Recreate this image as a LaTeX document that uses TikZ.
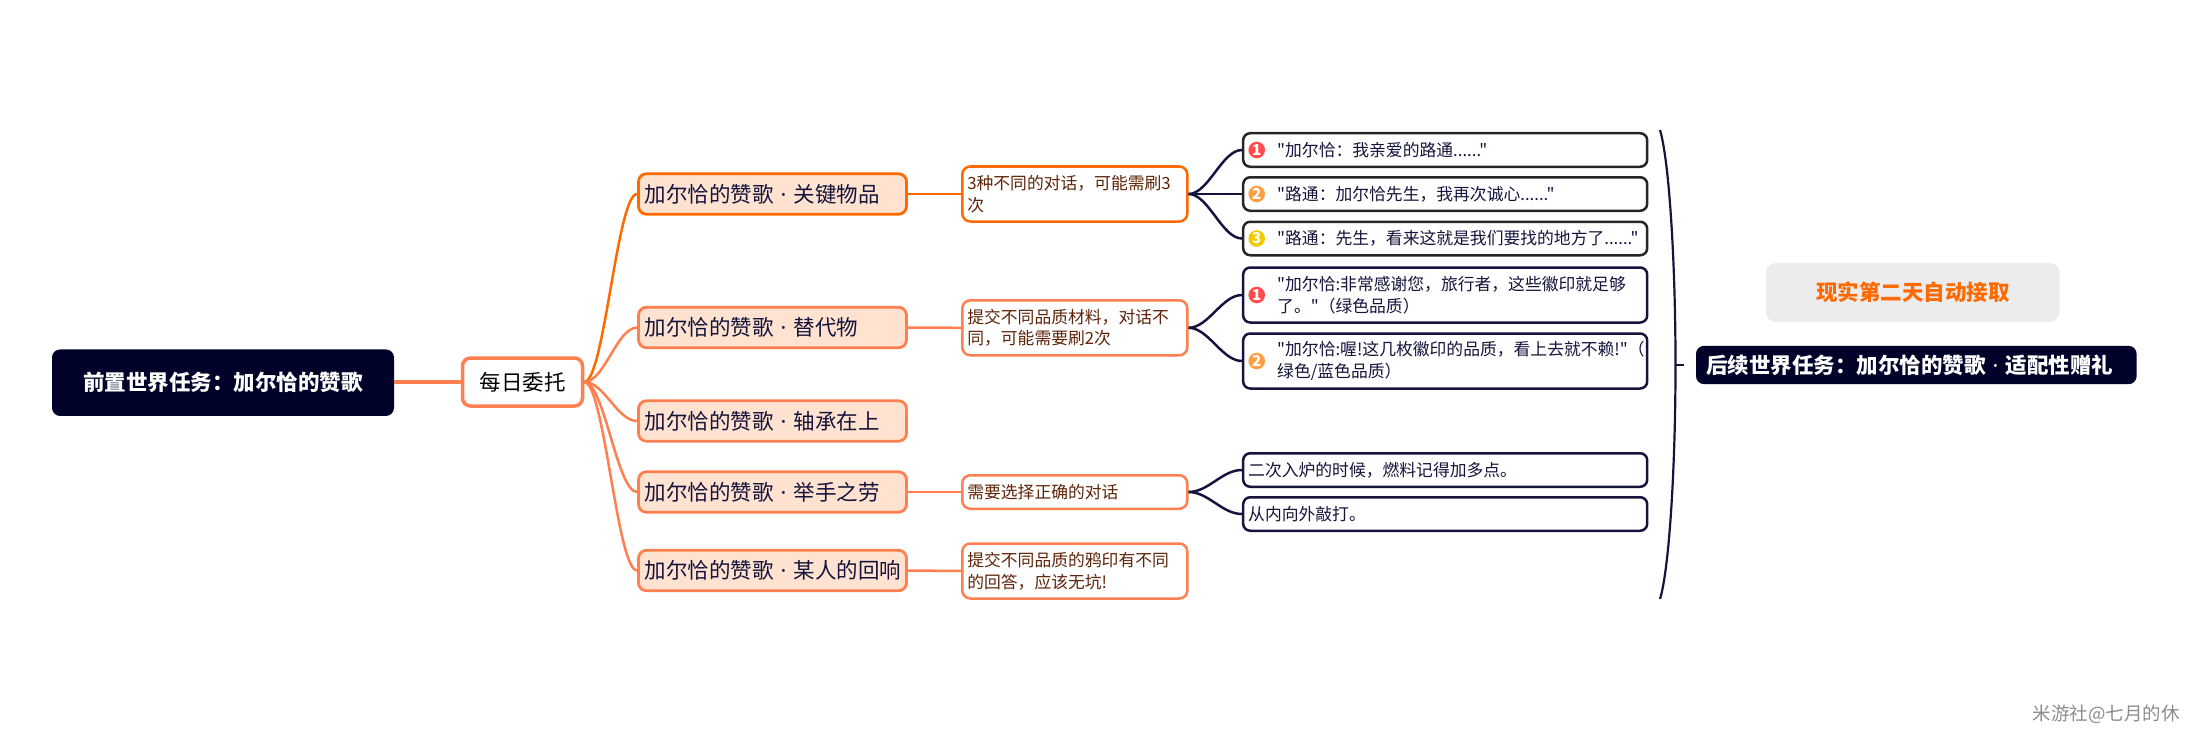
\documentclass[tikz,border=0pt]{standalone}
\usepackage{fontspec}
\usepackage{xcolor}
\newfontfamily\mapfont{Noto Sans CJK SC}
\newfontfamily\latinfont{Noto Sans}
\newcommand{\dotsep}{{\latinfont~·~}}
% full-width punctuation
\newcommand{\cma}{\char"FF0C\relax}
\newcommand{\cln}{\char"FF1A\relax}
\newcommand{\lpr}{\char"FF08\relax}
\newcommand{\rpr}{\char"FF09\relax}
\usetikzlibrary{positioning}
\definecolor{inkblue}{HTML}{000229}
\definecolor{lineblue}{HTML}{14143C}
\definecolor{taskorange}{HTML}{FF6A00}
\definecolor{coral}{HTML}{FF7F50}
\definecolor{peach}{HTML}{FFE2CF}
\definecolor{notebrown}{HTML}{5E2408}
\definecolor{paleroundbox}{HTML}{ECEBEE}
\definecolor{badgered}{HTML}{FF4D4F}
\definecolor{badgeorange}{HTML}{FF9F45}
\definecolor{badgeyellow}{HTML}{F2C800}
\tikzset{
  darkbox/.style={fill=inkblue, rounded corners=8pt, text=white, font=\mapfont\fontsize{21.5}{26}\selectfont\bfseries},
  branchbox/.style={draw, line width=2.8pt, fill=peach, rounded corners=8pt, minimum width=268pt, minimum height=40.5pt,
    inner xsep=6pt, inner ysep=0pt, text width=256pt, align=left, text=lineblue, font=\mapfont\fontsize{21.5}{26}\selectfont},
  notebox/.style={draw, line width=2.5pt, fill=white, rounded corners=8pt, minimum width=225pt,
    inner xsep=5pt, inner ysep=0pt, text width=215pt, align=left, text=notebrown, font=\mapfont\fontsize{16.8}{21.7}\selectfont},
  leafbox/.style={draw=lineblue, line width=2.5pt, fill=white, rounded corners=7pt, minimum width=404pt,
    inner xsep=5pt, inner ysep=0pt, text width=394pt, align=left, text=lineblue, font=\mapfont\fontsize{16.8}{21.7}\selectfont},
  badgedbox/.style={leafbox, execute at begin node={\leftskip=29pt}},
  badge/.style={circle, fill=#1, minimum size=16.6pt, inner sep=0pt, text=white, font=\mapfont\fontsize{15}{15}\selectfont\bfseries},
  branchline/.style={line width=2.5pt},
  leafline/.style={lineblue, line width=2.5pt}
}

\begin{document}
\begin{tikzpicture}[x=1pt, y=-1pt]
  \useasboundingbox (0,0) rectangle (2198,741);

  \node[darkbox, minimum width=342pt, minimum height=66.5pt] (prequest) at (223,382.7) {前置世界任务\cln 加尔恰的赞歌};
  \node[draw=coral, line width=3.5pt, fill=white, rounded corners=8pt, minimum width=120pt, minimum height=48pt,
    inner sep=0pt, text=black, font=\mapfont\fontsize{21.5}{26}\selectfont] (daily) at (522.5,382) {每日委托};
  \draw[coral, line width=3.5pt] (prequest.east |- daily.west) -- (daily.west);

  % Branches
  \foreach \name/\y/\col/\txt in {keyitem/194/taskorange/关键物品, substitute/327.5/coral/替代物, bearing/421/coral/轴承在上, favor/492/coral/举手之劳, echo/570.5/coral/某人的回响} {
    \node[branchbox, draw=\col] (\name) at (772.5,\y) {加尔恰的赞歌\dotsep\txt};
    \draw[branchline, \col] (daily.east) .. controls +(20,0) and +(-20,0) .. (\name.west);
  }

  % Notes
  \foreach \name/\from/\y/\h/\col/\txt in {
    keynote/keyitem/194/55/taskorange/{3种不同的对话\cma 可能需刷3\\次},
    subnote/substitute/327.8/55/coral/{提交不同品质材料\cma 对话不\\同\cma 可能需要刷2次},
    favornote/favor/492/33.5/coral/{需要选择正确的对话},
    echonote/echo/571/55/coral/{提交不同品质的鸦印有不同\\的回答\cma 应该无坑!}} {
    \node[notebox, draw=\col, minimum height=\h pt] (\name) at (1074.8,\y) {\txt};
    \draw[branchline, \col] (\from.east) -- (\name.west);
  }

  % Leaves with a number
  \foreach \name/\from/\y/\h/\col/\txt in {
    dialoga/keynote/150/33.5/black!85/{"加尔恰\cln 我亲爱的路通......"},
    dialogb/keynote/194/33.5/black!85/{"路通\cln 加尔恰先生\cma 我再次诚心......"},
    dialogc/keynote/238.5/33.5/black!85/{"路通\cln 先生\cma 看来这就是我们要找的地方了......"},
    quality/subnote/295/55/lineblue/{"加尔恰:非常感谢您\cma 旅行者\cma 这些徽印就足够\\了。"\lpr 绿色品质\rpr},
    qualityb/subnote/361/55/lineblue/{"加尔恰:喔!这几枚徽印的品质\cma 看上去就不赖!"\lpr\\绿色/蓝色品质\rpr}} {
    \node[badgedbox, draw=\col, minimum height=\h pt] (\name) at (1445.2,\y) {\txt};
    \draw[leafline] (\from.east) .. controls +(20,0) and +(-20,0) .. (\name.west);
  }
  \foreach \name/\y/\col/\num in {marka/150/badgered/1, markb/194/badgeorange/2, markc/238.5/badgeyellow/3, markd/295/badgered/1, marke/361/badgeorange/2} {
    \node[badge=\col] (\name) at (1256.7,\y) {\num};
  }

  % Leaves without a number
  \node[leafbox, minimum height=33.5pt] (heat) at (1445.2,470) {二次入炉的时候\cma 燃料记得加多点。};
  \node[leafbox, minimum height=33.5pt] (hammer) at (1445.2,514) {从内向外敲打。};
  \draw[leafline] (favornote.east) .. controls +(20,0) and +(-20,0) .. (heat.west);
  \draw[leafline] (favornote.east) .. controls +(20,0) and +(-20,0) .. (hammer.west);

  % Closing bracket
  \coordinate (bracetop) at (1660,130);
  \coordinate (bracemid) at (1675.5,365);
  \coordinate (bracebot) at (1660,599);
  \coordinate (bracetip) at (1684,365);
  \draw[lineblue, line width=2.2pt] (bracetop) .. controls (1669,160) and (1675.5,260) .. (bracemid)
    .. controls (1675.5,470) and (1669,570) .. (bracebot);
  \draw[lineblue, line width=2.2pt] (bracemid) -- (bracetip);

  \node[fill=paleroundbox, rounded corners=10pt, minimum width=293.6pt, minimum height=59pt, inner sep=0pt,
    text=taskorange, font=\mapfont\fontsize{21.5}{26}\selectfont\bfseries] (autotake) at (1912.8,292.5) {现实第二天自动接取};
  \node[darkbox, minimum width=440.6pt, minimum height=38.3pt, inner xsep=10pt, inner ysep=0pt, text width=420.6pt, align=left] (nextquest) at (1916.3,365)
    {后续世界任务\cln 加尔恰的赞歌\dotsep 适配性赠礼};

  \node[anchor=east, inner sep=0pt, text=black!45, font=\mapfont\fontsize{18.5}{22}\selectfont] (credit) at (2180,714) {米游社@七月的休};
\end{tikzpicture}
\end{document}
